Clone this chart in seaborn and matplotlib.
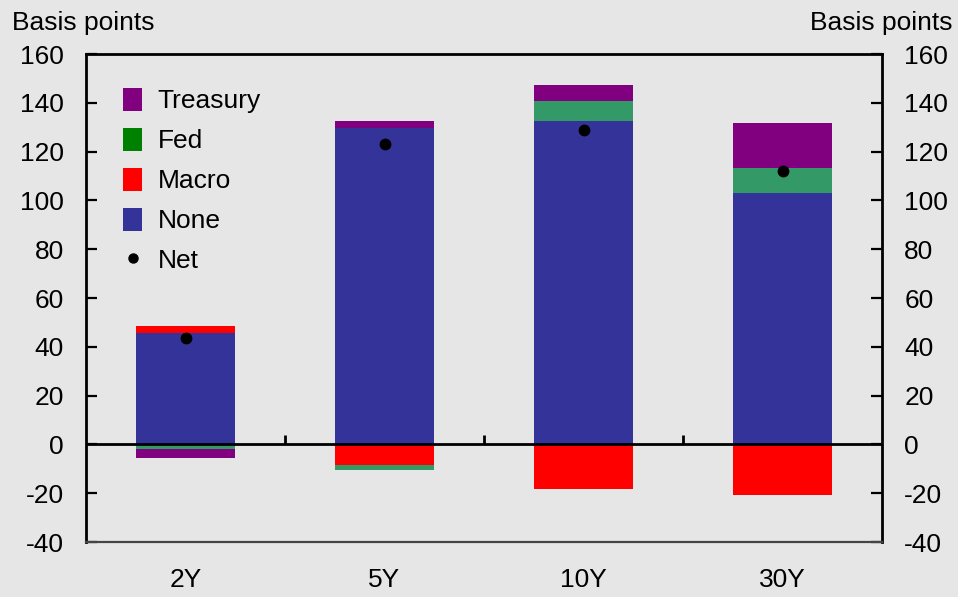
import numpy as np
import pandas as pd
import matplotlib
matplotlib.use("Agg")
import matplotlib.pyplot as plt
from matplotlib.patches import Patch
from matplotlib.lines import Line2D
import seaborn as sns

# ---- data (basis points) ----
categories = ["2Y", "5Y", "10Y", "30Y"]
none_vals = [45.7, 129.8, 132.5, 103.0]
macro_vals = [2.8, -8.5, -18.2, -20.9]
fed_vals = [-1.8, -2.0, 8.2, 10.4]
treasury_vals = [-3.8, 2.7, 6.6, 18.2]
net_vals = [43.7, 123.0, 128.7, 111.9]
y_ticks = [-40, -20, 0, 20, 40, 60, 80, 100, 120, 140, 160]

BG = "#e6e6e6"
COL_NONE = "#333399"
COL_MACRO = "#ff0000"
COL_FED = "#339966"
COL_FED_LEG = "#008000"
COL_TREAS = "#800080"

sns.set_theme(style="white")
plt.rcParams["font.family"] = ["Liberation Sans", "DejaVu Sans"]
plt.rcParams["text.color"] = "black"
FS = 19

fig = plt.figure(figsize=(9.58, 5.97), dpi=100, facecolor=BG)
ax = fig.add_axes([86 / 958, 55 / 597, 796 / 958, 488 / 597])
ax.set_facecolor(BG)

components = [
    ("None", none_vals, COL_NONE),
    ("Macro", macro_vals, COL_MACRO),
    ("Fed", fed_vals, COL_FED),
    ("Treasury", treasury_vals, COL_TREAS),
]

pos_base = np.zeros(len(categories))
neg_base = np.zeros(len(categories))
for name, vals, col in components:
    v = np.array(vals, dtype=float)
    bottom = np.where(v >= 0, pos_base, neg_base)
    df = pd.DataFrame({"cat": categories, "val": v})
    sns.barplot(data=df, x="cat", y="val", order=categories, color=col,
                width=0.5, errorbar=None, bottom=bottom, ax=ax,
                saturation=1, edgecolor="none", linewidth=0, zorder=2)
    pos_base = pos_base + np.where(v >= 0, v, 0)
    neg_base = neg_base + np.where(v < 0, v, 0)

net_df = pd.DataFrame({"cat": categories, "net": net_vals})
sns.stripplot(data=net_df, x="cat", y="net", order=categories, jitter=False,
              color="black", size=8.5, ax=ax, zorder=6, linewidth=0)

ymin, ymax = -40, 160
ax.set_ylim(ymin, ymax)
ax.set_xlim(-0.5, len(categories) - 0.5)
ax.set_xlabel("")
ax.set_ylabel("")

# zero line with category boundary ticks
ax.axhline(0, color="black", lw=2, zorder=5)
zero_frac = (0 - ymin) / (ymax - ymin)
ax.vlines(np.arange(len(categories) - 1) + 0.5, zero_frac, zero_frac + 9 / 488,
          transform=ax.get_xaxis_transform(), color="black", lw=2, zorder=5)

# spines
for s in ["left", "right", "top"]:
    ax.spines[s].set_visible(True)
    ax.spines[s].set_color("black")
    ax.spines[s].set_linewidth(2)
ax.spines["bottom"].set_color("#444444")
ax.spines["bottom"].set_linewidth(1.6)

ax.set_yticks(y_ticks)
ax.set_yticklabels([str(t) for t in y_ticks])
ax.tick_params(axis="y", left=True, right=True, labelleft=True, labelright=True,
               direction="in", length=8, width=1.6, color="black",
               labelsize=FS, pad=16, labelcolor="black")
ax.tick_params(axis="x", bottom=False, length=0, labelsize=FS, pad=19,
               labelcolor="black")

fig.text(12 / 958, 1 - 30 / 597, "Basis points", ha="left", va="baseline",
         fontsize=FS, color="black")
fig.text(952 / 958, 1 - 30 / 597, "Basis points", ha="right", va="baseline",
         fontsize=FS, color="black")

handles = [
    Patch(facecolor=COL_TREAS, edgecolor="none"),
    Patch(facecolor=COL_FED_LEG, edgecolor="none"),
    Patch(facecolor=COL_MACRO, edgecolor="none"),
    Patch(facecolor=COL_NONE, edgecolor="none"),
    Line2D([], [], marker="o", color="black", linestyle="none", markersize=6.5),
]
labels = ["Treasury", "Fed", "Macro", "None", "Net"]
leg = ax.legend(handles, labels, loc="upper left",
                bbox_to_anchor=((123 - 86) / 796, (542 - 88) / 488),
                frameon=False, fontsize=FS, borderpad=0, borderaxespad=0,
                handlelength=0.72, handleheight=0.95, handletextpad=0.6,
                labelspacing=0.55, labelcolor="black")

fig.savefig("out.png", dpi=100, facecolor=BG)
